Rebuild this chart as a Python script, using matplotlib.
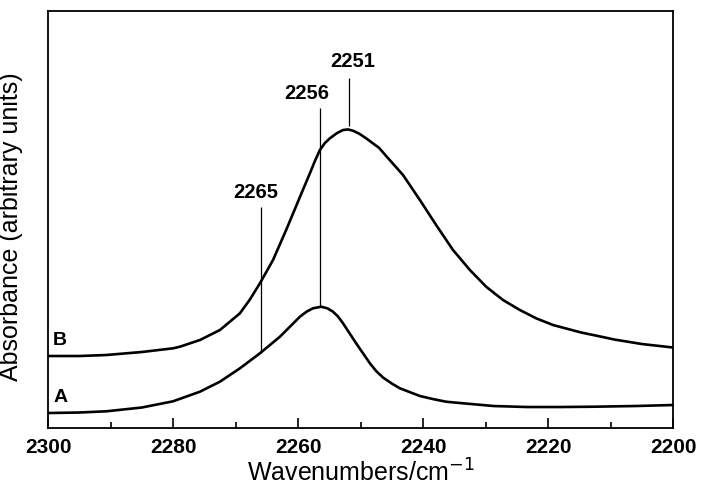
import matplotlib
matplotlib.use('Agg')
from matplotlib import pyplot as plt
from matplotlib.ticker import MultipleLocator

plt.rcParams['font.family'] = ['Liberation Sans', 'DejaVu Sans']

# Spectrum B (upper trace)
wn_b = [2300, 2295, 2290.7, 2285, 2280, 2278.9, 2275.7, 2272.5, 2269.3, 2267.7,
        2266.1, 2264, 2261.9, 2259.7, 2258.1, 2257.3, 2256.5, 2255.7, 2254.9,
        2253.8, 2252.8, 2252, 2251.2, 2250.2, 2249.1, 2247, 2245.9, 2243.2,
        2240.5, 2237.9, 2235.2, 2232.5, 2229.9, 2227.2, 2224.5, 2221.9, 2219.2,
        2216.5, 2214.7, 2212, 2209.4, 2205, 2200]
abs_b = [72, 72, 73, 76, 79.7, 81.3, 88, 98, 114.7, 128.5,
         144.7, 168, 198, 231, 254.7, 267, 278, 285, 289.7,
         294.8, 298, 298.6, 297.3, 294.3, 289.7, 280, 272, 253,
         228, 203, 178, 158, 141.3, 128, 118, 109.7, 103,
         98.5, 95.5, 92, 88.5, 84, 80.5]

# Spectrum A (lower trace)
wn_a = [2300, 2295, 2290.7, 2285, 2280, 2275.7, 2272.5, 2269.3, 2266.1, 2262.9,
        2259.7, 2258.6, 2257.6, 2256.3, 2255.3, 2254.4, 2253.6, 2252.8, 2250.7,
        2248.5, 2247.5, 2246.4, 2245, 2243.7, 2240.5, 2238.3, 2236.3, 2234.1,
        2228.7, 2223.4, 2218, 2212.7, 2206, 2200]
abs_a = [15, 15.5, 16.7, 20.5, 26.7, 36.3, 46.3, 59.7, 74.7, 91.3,
         111.3, 116.5, 119.7, 121.3, 119.7, 116.3, 111.5, 104.7, 84.7,
         64.7, 57, 50.5, 44.5, 39.7, 32, 28.8, 26.3, 25,
         22, 21, 21, 21.3, 22, 23]

# Band markers: position, top and bottom of the line, label
peak_pos = [2266, 2256.5, 2251.8]
peak_top = [221, 320, 350]
peak_bot = [75, 122, 302]
peak_labels = ['2265', '2256', '2251']
label_x = [2266.8, 2258.6, 2251.3]
label_y = [236, 335, 367]

fig = plt.figure(figsize=(7.01, 4.90), dpi=100)
ax = fig.add_axes([0.0685, 0.1265, 0.8916, 0.851])

ax.plot(wn_b, abs_b, c='black', lw=1.9, solid_joinstyle='round')
ax.plot(wn_a, abs_a, c='black', lw=1.9, solid_joinstyle='round')
ax.vlines(peak_pos, peak_bot, peak_top, colors='black', lw=0.9)
for x, y, t in zip(label_x, label_y, peak_labels):
    ax.text(x, y, t, ha='center', va='center', fontsize=14.5, fontweight='bold')

ax.text(2299.2, 88, 'B', ha='left', va='center', fontsize=14, fontweight='bold')
ax.text(2299.2, 31, 'A', ha='left', va='center', fontsize=14, fontweight='bold')

ax.set_xlim(2300, 2200)
ax.set_ylim(0, 417)
ax.xaxis.set_major_locator(MultipleLocator(20))
ax.xaxis.set_minor_locator(MultipleLocator(10))
ax.tick_params(axis='x', which='major', direction='in', length=7, width=1.2,
               labelsize=15, pad=7)
ax.tick_params(axis='x', which='minor', direction='in', length=4, width=1.2)
for lbl in ax.get_xticklabels():
    lbl.set_fontweight('bold')
ax.set_yticks([])
for sp in ax.spines.values():
    sp.set_linewidth(1.3)

ax.set_xlabel('Wavenumbers/cm$^{-1}$', fontsize=18, labelpad=2)
ax.set_ylabel('Absorbance (arbitrary units)', fontsize=18)
ax.yaxis.set_label_coords(-0.04, 0.482)

fig.savefig('out.png', dpi=100)
